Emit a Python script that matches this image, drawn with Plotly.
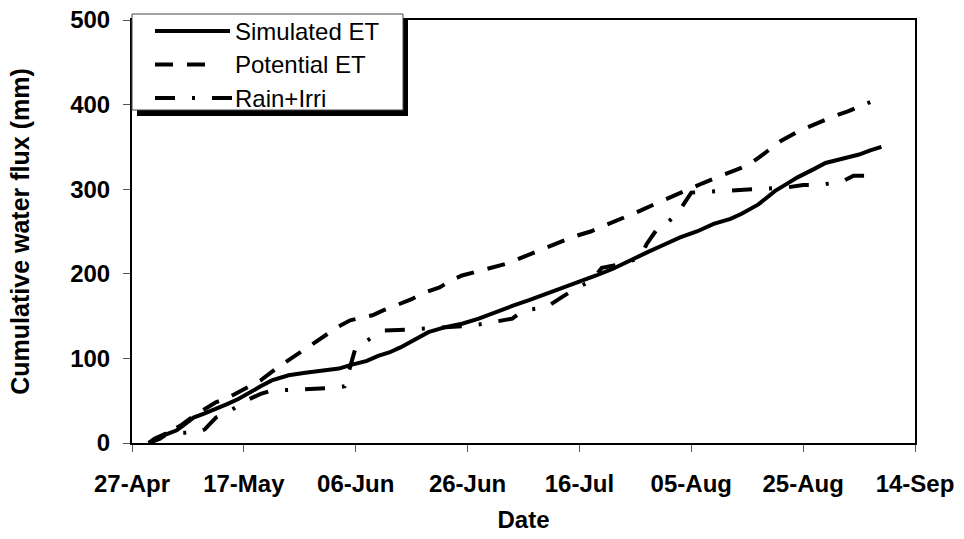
import plotly.graph_objects as go

# ---- data ----
sim_dates = ["2011-04-30", "2011-05-01", "2011-05-03", "2011-05-05", "2011-05-06", "2011-05-08",
             "2011-05-10", "2011-05-12", "2011-05-14", "2011-05-16", "2011-05-18", "2011-05-20",
             "2011-05-22", "2011-05-25", "2011-05-28", "2011-06-01", "2011-06-03", "2011-06-05",
             "2011-06-08", "2011-06-10", "2011-06-12", "2011-06-14", "2011-06-17", "2011-06-19",
             "2011-06-22", "2011-06-25", "2011-06-28", "2011-07-01", "2011-07-04", "2011-07-07",
             "2011-07-10", "2011-07-13", "2011-07-16", "2011-07-19", "2011-07-22", "2011-07-25",
             "2011-07-28", "2011-07-31", "2011-08-03", "2011-08-06", "2011-08-09", "2011-08-12",
             "2011-08-14", "2011-08-17", "2011-08-20", "2011-08-22", "2011-08-24", "2011-08-27",
             "2011-08-29", "2011-09-01", "2011-09-04", "2011-09-06", "2011-09-08"]
sim_et = [0, 4, 10, 15, 20, 30,
          35, 40, 46, 52, 60, 67,
          74, 80, 83, 86, 88, 92,
          97, 103, 107, 113, 124, 131,
          137, 141, 147, 155, 162, 169,
          176, 183, 191, 198, 206, 216,
          225, 234, 243, 250, 259, 265,
          271, 282, 298, 306, 314, 324,
          331, 336, 341, 346, 350]

pot_dates = ["2011-04-30", "2011-05-02", "2011-05-04", "2011-05-06", "2011-05-08", "2011-05-10",
             "2011-05-12", "2011-05-14", "2011-05-16", "2011-05-18", "2011-05-20", "2011-05-23",
             "2011-05-26", "2011-05-29", "2011-05-31", "2011-06-03", "2011-06-05", "2011-06-09",
             "2011-06-11", "2011-06-13", "2011-06-16", "2011-06-18", "2011-06-21", "2011-06-23",
             "2011-06-25", "2011-06-29", "2011-07-03", "2011-07-06", "2011-07-09", "2011-07-12",
             "2011-07-15", "2011-07-18", "2011-07-21", "2011-07-24", "2011-07-27", "2011-07-30",
             "2011-08-02", "2011-08-04", "2011-08-07", "2011-08-10", "2011-08-13", "2011-08-15",
             "2011-08-17", "2011-08-19", "2011-08-21", "2011-08-24", "2011-08-27", "2011-08-30",
             "2011-09-02", "2011-09-05", "2011-09-06"]
pot_et = [0, 5, 14, 22, 32, 40,
          48, 53, 60, 66, 74, 89,
          102, 115, 125, 138, 145, 151,
          157, 162, 170, 177, 184, 192,
          198, 205, 212, 220, 228, 237,
          244, 250, 258, 266, 275, 284,
          293, 298, 307, 315, 323, 328,
          337, 347, 357, 368, 377, 385,
          392, 400, 403]

rain_dates = ["2011-04-30", "2011-05-01", "2011-05-03", "2011-05-06", "2011-05-09", "2011-05-10",
              "2011-05-11", "2011-05-12", "2011-05-14", "2011-05-16", "2011-05-18", "2011-05-20",
              "2011-05-22", "2011-05-26", "2011-05-29", "2011-06-02", "2011-06-04", "2011-06-05",
              "2011-06-06", "2011-06-09", "2011-06-11", "2011-06-15", "2011-06-18", "2011-06-21",
              "2011-06-25", "2011-06-28", "2011-07-01", "2011-07-04", "2011-07-06", "2011-07-10",
              "2011-07-13", "2011-07-16", "2011-07-18", "2011-07-20", "2011-07-24", "2011-07-27",
              "2011-07-28", "2011-07-30", "2011-08-01", "2011-08-03", "2011-08-05", "2011-08-08",
              "2011-08-12", "2011-08-15", "2011-08-18", "2011-08-22", "2011-08-25", "2011-08-28",
              "2011-09-01", "2011-09-03", "2011-09-07"]
rain_irri = [0, 5, 11, 12, 13, 16,
             23, 30, 36, 44, 52, 58,
             62, 63, 64, 65, 67, 92,
             113, 125, 133, 134, 135, 136,
             138, 140, 143, 147, 157, 160,
             173, 185, 191, 207, 212, 220,
             235, 254, 262, 276, 296, 297,
             299, 300, 300, 302, 305, 305,
             309, 316, 316]

series_names = ["Simulated ET", "Potential ET", "Rain+Irri"]
y_ticks = [0, 100, 200, 300, 400, 500]

FONT = "Liberation Sans, Arial, sans-serif"
W, H = 964, 539
L, R, T, B = 132, 49, 20, 96
PW, PH = W - L - R, H - T - B

def px(x):
    return (x - L) / PW

def py(y):
    return (H - B - y) / PH

dashes = ["solid", "18px,14px", "20px,17px,3px,17px"]

fig = go.Figure()
for name, xs, ys, d in zip(series_names, [sim_dates, pot_dates, rain_dates],
                           [sim_et, pot_et, rain_irri], dashes):
    fig.add_trace(go.Scatter(x=xs, y=ys, mode="lines", name=name,
                             line=dict(color="black", width=4, dash=d),
                             showlegend=False))

# custom legend (box with shadow, long line samples)
shapes = [
    dict(type="rect", xref="paper", yref="paper", x0=px(137), x1=px(408), y0=py(116), y1=py(19),
         fillcolor="black", line=dict(width=0), layer="above"),
    dict(type="rect", xref="paper", yref="paper", x0=px(132), x1=px(403), y0=py(110), y1=py(14),
         fillcolor="white", line=dict(color="#444444", width=1), layer="above"),
]
row_y = [31, 64.5, 98]
sample_end = [230, 212, 236]
annotations = []
for name, ry, d, xe in zip(series_names, row_y, dashes, sample_end):
    shapes.append(dict(type="line", xref="paper", yref="paper", x0=px(155), x1=px(xe),
                       y0=py(ry), y1=py(ry), line=dict(color="black", width=4, dash=d),
                       layer="above"))
    annotations.append(dict(xref="paper", yref="paper", x=px(233), y=py(ry), text=name,
                            showarrow=False, xanchor="left", yanchor="middle",
                            font=dict(family=FONT, size=24, color="black")))

fig.update_layout(
    width=W, height=H,
    margin=dict(l=L, r=R, t=T, b=B, pad=0),
    paper_bgcolor="white", plot_bgcolor="white",
    font=dict(family=FONT, color="black"),
    shapes=shapes, annotations=annotations,
    xaxis=dict(
        type="date", range=["2011-04-27", "2011-09-14"], automargin=False,
        tick0="2011-04-27", dtick=20 * 86400000, tickformat="%d-%b",
        showgrid=False, zeroline=False,
        showline=True, linecolor="black", linewidth=2, mirror=True,
        ticks="outside", ticklen=7, tickwidth=1, tickcolor="#555555",
        tickfont=dict(family=FONT, size=24, color="black", weight="bold"),
        ticklabelstandoff=11,
        title=dict(text="<b>Date</b>", font=dict(family=FONT, size=24, color="black"), standoff=15),
    ),
    yaxis=dict(
        range=[0, 500], tickvals=y_ticks, automargin=False,
        showgrid=False, zeroline=False,
        showline=True, linecolor="black", linewidth=2, mirror=True,
        ticks="outside", ticklen=7, tickwidth=1, tickcolor="#555555",
        tickfont=dict(family=FONT, size=24, color="black", weight="bold"),
        ticklabelstandoff=8,
        title=dict(text="<b>Cumulative water flux (mm)</b>",
                   font=dict(family=FONT, size=25, color="black"), standoff=33),
    ),
)

fig.write_html("out.html")
